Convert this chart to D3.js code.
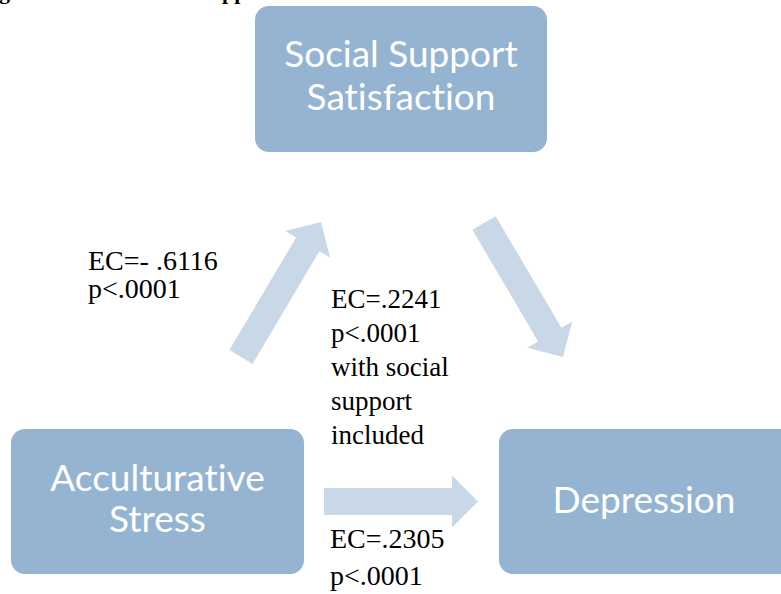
<!DOCTYPE html>
<html>
<head>
<meta charset="utf-8">
<script src="https://cdn.jsdelivr.net/npm/d3@7"></script>
<style>
  body { margin: 0; background: #fff; }
  svg { display: block; }
</style>
</head>
<body>
<div id="plot"></div>
<script>
// the variables of the mediation model
const nodes = ["Social Support Satisfaction", "Acculturative Stress", "Depression"];
const nodeLines = [["Social Support", "Satisfaction"], ["Acculturative", "Stress"], ["Depression"]];

// paths: a (stress -> support), b (support -> depression), c (stress -> depression)
const pathFrom = ["Acculturative Stress", "Social Support Satisfaction", "Acculturative Stress"];
const pathTo = ["Social Support Satisfaction", "Depression", "Depression"];

// effect coefficients and p values shown beside the arrows
const coefs = [-0.6116, 0.2241, 0.2305];
const pvals = ["<.0001", "<.0001", "<.0001"];
const notes = [[], ["with social", "support", "included"], []];

const width = 781, height = 594;

const svg = d3.select("#plot")
  .append("svg")
  .attr("width", width)
  .attr("height", height);

svg.append("rect").attr("width", width).attr("height", height).attr("fill", "#fff");

// layout of the boxes (pixel space)
const box = {
  "Social Support Satisfaction": {x: 255, y: 6, w: 292, h: 146, lines: [67, 110]},
  "Acculturative Stress": {x: 11, y: 429, w: 293, h: 145, lines: [491, 532]},
  "Depression": {x: 499, y: 429, w: 300, h: 145, lines: [513]}
};

// arrow geometry: tail centre and tip
const arrowPos = [
  {tail: [241, 357], tip: [321, 222]},
  {tail: [484, 223], tip: [563, 357]},
  {tail: [324, 501.5], tip: [478, 501.5]}
];

// where the text of each path goes
const labelPos = [
  {x: 88, y: 270, dy: 28, size: 28},
  {x: 331, y: 308, dy: 34, size: 27},
  {x: 330, y: 548, dy: 37, size: 28}
];

const fmt = d3.format(".4f");
function ecText(v) {
  const s = fmt(Math.abs(v)).replace(/^0/, "");
  return v < 0 ? "EC=- " + s : "EC=" + s;
}

// cut off title of the figure above the chart
const title = svg.append("g")
  .style("font-family", "'Liberation Serif', 'Times New Roman', serif")
  .style("font-weight", "bold")
  .style("font-size", "22px")
  .attr("fill", "#000");
title.append("text").attr("x", -1).attr("y", -1).text("g");
title.append("text").attr("x", 222).attr("y", -1).text("pp");

// arrows
const shaft = 13.5, head = 26, headLen = 26;
function arrowPoints(a) {
  const dx = a.tip[0] - a.tail[0], dy = a.tip[1] - a.tail[1];
  const len = Math.hypot(dx, dy);
  const ux = dx / len, uy = dy / len, px = -uy, py = ux;
  const bx = a.tip[0] - ux * headLen, by = a.tip[1] - uy * headLen;
  return [
    [a.tail[0] + px * shaft, a.tail[1] + py * shaft],
    [bx + px * shaft, by + py * shaft],
    [bx + px * head, by + py * head],
    a.tip,
    [bx - px * head, by - py * head],
    [bx - px * shaft, by - py * shaft],
    [a.tail[0] - px * shaft, a.tail[1] - py * shaft]
  ];
}

svg.selectAll(".arrow")
  .data(d3.range(pathFrom.length))
  .join("path")
  .attr("class", "arrow")
  .attr("d", i => d3.line()(arrowPoints(arrowPos[i])) + "Z")
  .attr("fill", "#c8d8e7");

// boxes
const boxes = svg.selectAll(".node")
  .data(nodes)
  .join("g")
  .attr("class", "node");

boxes.append("rect")
  .attr("x", d => box[d].x)
  .attr("y", d => box[d].y)
  .attr("width", d => box[d].w)
  .attr("height", d => box[d].h)
  .attr("rx", 14)
  .attr("fill", "#95b4d2");

boxes.each(function(d, i) {
  const b = box[d];
  d3.select(this).selectAll("text")
    .data(nodeLines[i])
    .join("text")
    .attr("x", b.x + b.w / 2)
    .attr("y", (t, j) => b.lines[j])
    .attr("text-anchor", "middle")
    .attr("fill", "#fff")
    .style("font-family", "Lato, 'Open Sans', sans-serif")
    .style("font-size", "37px")
    .style("font-variant-ligatures", "none")
    .text(t => t);
});
// the depression box runs past the right edge, centre text on its visible part
boxes.filter(d => d === "Depression").select("text").attr("x", 644);

// coefficient labels
coefs.forEach((c, i) => {
  const lp = labelPos[i];
  const lines = [ecText(c), "p" + pvals[i]].concat(notes[i]);
  svg.append("g")
    .selectAll("text")
    .data(lines)
    .join("text")
    .attr("x", lp.x)
    .attr("y", (t, j) => lp.y + j * lp.dy)
    .attr("fill", "#000")
    .style("font-family", "'Liberation Serif', 'Times New Roman', serif")
    .style("font-size", lp.size + "px")
    .text(t => t);
});
</script>
</body>
</html>
